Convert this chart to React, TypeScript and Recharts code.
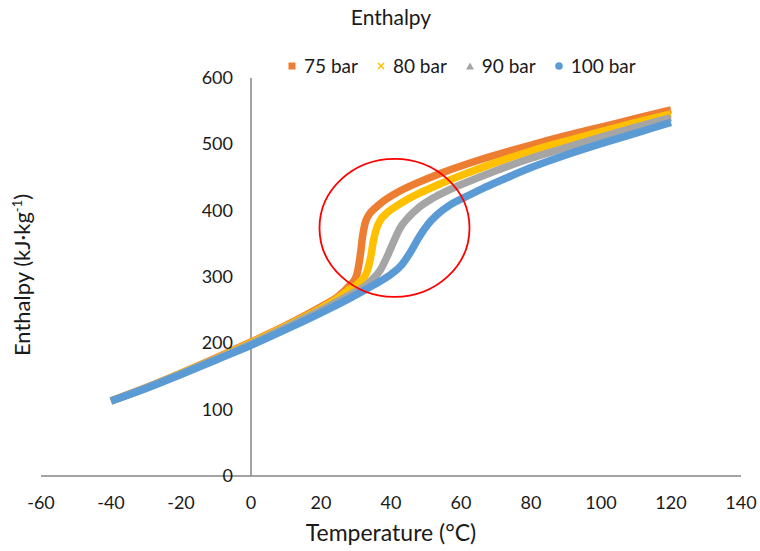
import React from 'react';
import { LineChart, Line, XAxis, YAxis, ReferenceLine, ReferenceDot } from 'recharts';

// temperatures (°C) and enthalpies (kJ/kg)
const temps75 = [-40, -30, -20, -10, 0, 10, 20, 25, 28, 30, 30.8, 31.4, 31.9, 32.6, 33.6, 35.5, 38, 42, 48, 55, 65, 80, 90, 100, 110, 120];
const enth75 = [113, 133, 155, 178, 202, 227, 255, 271, 286, 300, 318, 340, 362, 381, 393, 404, 415, 428, 443, 458, 476, 499, 513, 526, 539, 552];

const temps80 = [-40, -30, -20, -10, 0, 10, 20, 25, 28, 31, 33, 34.2, 35, 35.8, 37, 38.5, 41, 44, 48, 53, 60, 65, 80, 90, 100, 110, 120];
const enth80 = [113, 133, 155, 177, 201, 226, 253, 269, 281, 292, 306, 330, 355, 372, 386, 395, 405, 415, 426, 438, 453, 463, 490, 505, 519, 533, 546];

const temps90 = [-40, -30, -20, -10, 0, 10, 20, 25, 30, 33, 35, 37, 39, 40.5, 42.5, 45, 48, 52, 56, 65, 80, 90, 100, 110, 120];
const enth90 = [113, 133, 154, 176, 199, 224, 250, 264, 278, 288, 298, 311, 332, 350, 373, 390, 405, 419, 430, 450, 479, 495, 511, 526, 540];

const temps100 = [-40, -30, -20, -10, 0, 10, 20, 25, 30, 35, 40, 43, 45.5, 48, 50.5, 53, 57, 61, 66, 72, 80, 90, 100, 110, 120];
const enth100 = [113, 132, 153, 175, 197, 221, 246, 259, 273, 288, 304, 318, 337, 360, 379, 393, 409, 420, 433, 447, 465, 484, 501, 517, 533];

const xTicks = [-60, -40, -20, 0, 20, 40, 60, 80, 100, 120, 140];
const yTicks = [0, 100, 200, 300, 400, 500, 600];

// circled region (centre in data units)
const circleT = 41;
const circleH = 374;

const X_MIN = -60;
const X_MAX = 140;
const PLOT_LEFT = 41;
const PLOT_W = 700;
const FONT = 'Lato, "Open Sans", sans-serif';
const TEXT = '#1a1a1a';
const AXIS = '#868686';

const zip = (ts: number[], hs: number[]) => ts.map((t, i) => ({ t, h: hs[i] }));

const series = [
  { name: '75 bar', color: '#ED7D31', data: zip(temps75, enth75) },
  { name: '80 bar', color: '#FFC000', data: zip(temps80, enth80) },
  { name: '90 bar', color: '#A5A5A5', data: zip(temps90, enth90) },
  { name: '100 bar', color: '#5B9BD5', data: zip(temps100, enth100) },
];

const zeroX = PLOT_LEFT + (PLOT_W * (0 - X_MIN)) / (X_MAX - X_MIN);

const renderYTick = (props: any) => (
  <text x={zeroX - 18} y={props.y} dy={6} textAnchor="end" fontSize={18} fill={TEXT} fontFamily={FONT}>
    {props.payload.value}
  </text>
);

const Marker = ({ kind, color }: { kind: number; color: string }) => (
  <svg width={10} height={10} style={{ marginRight: 7 }}>
    {kind === 0 && <rect x={1.5} y={1.5} width={7} height={7} fill={color} />}
    {kind === 1 && (
      <g stroke={color} strokeWidth={1.6}>
        <line x1={2} y1={2} x2={8} y2={8} />
        <line x1={8} y1={2} x2={2} y2={8} />
      </g>
    )}
    {kind === 2 && <polygon points="5,1.5 9,8.5 1,8.5" fill={color} />}
    {kind === 3 && <circle cx={5} cy={5} r={3.8} fill={color} />}
  </svg>
);

export default function App() {
  return (
    <div style={{ position: 'relative', width: 760, height: 551, fontFamily: FONT, background: '#fff' }}>
      <style>{`body{margin:0}`}</style>
      <div style={{ position: 'absolute', top: 4, left: 291, width: 200, textAlign: 'center', fontSize: 21, color: TEXT }}>
        Enthalpy
      </div>
      <div style={{ position: 'absolute', top: 54, left: 287, display: 'flex', alignItems: 'center', fontSize: 19, color: TEXT }}>
        {series.map((s, i) => (
          <div key={s.name} style={{ display: 'flex', alignItems: 'center', marginRight: 18 }}>
            <Marker kind={i} color={s.color} />
            <span>{s.name}</span>
          </div>
        ))}
      </div>
      <LineChart width={760} height={551} margin={{ top: 78, right: 19, left: 40, bottom: 0 }}>
        <XAxis
          type="number"
          dataKey="t"
          domain={[X_MIN, X_MAX]}
          ticks={xTicks}
          allowDataOverflow
          height={75}
          axisLine={{ stroke: AXIS, strokeWidth: 1.5 }}
          tickLine={false}
          tickMargin={14}
          tick={{ fontSize: 18, fill: TEXT, fontFamily: FONT }}
          label={{ value: 'Temperature (°C)', position: 'insideBottom', offset: 10, fontSize: 23, fill: TEXT, fontFamily: FONT }}
        />
        <YAxis
          type="number"
          dataKey="h"
          domain={[0, 600]}
          ticks={yTicks}
          width={1}
          axisLine={false}
          tickLine={false}
          tick={renderYTick}
          label={{
            content: () => (
              <text
                x={30}
                y={275}
                transform="rotate(-90, 30, 275)"
                textAnchor="middle"
                fontSize={22}
                fill={TEXT}
                fontFamily={FONT}
              >
                Enthalpy (kJ·kg<tspan dy={-8} fontSize={13}>-1</tspan><tspan dy={8}>)</tspan>
              </text>
            ),
          }}
        />
        <ReferenceLine x={0} stroke={AXIS} strokeWidth={1.5} />
        {series.map((s) => (
          <Line
            key={s.name}
            data={s.data}
            dataKey="h"
            name={s.name}
            type="monotone"
            stroke={s.color}
            strokeWidth={7.5}
            dot={false}
            isAnimationActive={false}
          />
        ))}
        <ReferenceDot
          x={circleT}
          y={circleH}
          ifOverflow="visible"
          shape={(p: any) => <ellipse cx={p.cx} cy={p.cy} rx={75} ry={69} fill="none" stroke="#FF0000" strokeWidth={1.8} />}
        />
      </LineChart>
    </div>
  );
}
